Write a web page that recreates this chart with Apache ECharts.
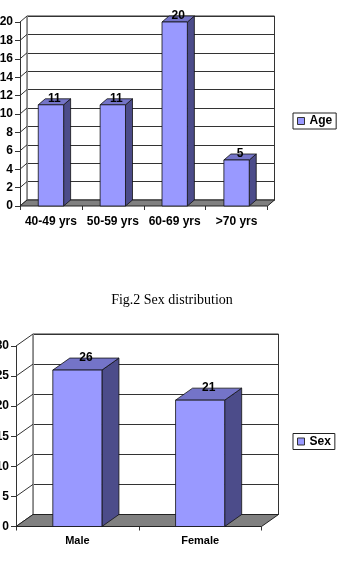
<!DOCTYPE html>
<html>
<head>
<meta charset="utf-8">
<script src="https://cdn.jsdelivr.net/npm/echarts@6/dist/echarts.min.js"></script>
<style>
  html, body { margin: 0; padding: 0; background: #fff; }
  #main { width: 344px; height: 563px; }
</style>
</head>
<body>
<div id="main"></div>
<script>
// chart data
var ageCategories = ['40-49 yrs', '50-59 yrs', '60-69 yrs', '>70 yrs']
var ageValues = [11, 11, 20, 5]
var ageTicks = [0, 2, 4, 6, 8, 10, 12, 14, 16, 18, 20]

var sexCategories = ['Male', 'Female']
var sexValues = [26, 21]
var sexTicks = [0, 5, 10, 15, 20, 25, 30]

var FONT = '"Liberation Sans", Arial, sans-serif'
var FRONT = '#9999FF'
var TOP = '#7474C8'
var SIDE = '#4C4C8A'

// layout of the two panels (front plane + depth offset)
var panels = [
  { name: 'Age', cats: ageCategories, vals: ageValues, ticks: ageTicks,
    rect: { left: 20, top: 22, width: 247.5, height: 184 },
    dx: 7, dy: 6, barRatio: 0.41, xFont: 12, xMargin: 10, legendTop: 113 },
  { name: 'Sex', cats: sexCategories, vals: sexValues, ticks: sexTicks,
    rect: { left: 16, top: 346, width: 245.5, height: 180.5 },
    dx: 17, dy: 12, barRatio: 0.40, xFont: 11, xMargin: 9, legendTop: 433.5 }
]

var grids = [], xAxes = [], yAxes = [], series = [], legends = []

panels.forEach(function (p, k) {
  var front = k * 2
  var back = k * 2 + 1
  var min = p.ticks[0]
  var max = p.ticks[p.ticks.length - 1]
  var step = p.ticks[1] - p.ticks[0]

  grids.push({
    left: p.rect.left, top: p.rect.top, width: p.rect.width, height: p.rect.height,
    outerBoundsMode: 'none', containLabel: false
  })
  grids.push({
    left: p.rect.left + p.dx, top: p.rect.top - p.dy, width: p.rect.width, height: p.rect.height,
    outerBoundsMode: 'none', containLabel: false,
    show: true, borderColor: '#333', borderWidth: 1, backgroundColor: 'rgba(0,0,0,0)'
  })

  xAxes.push({
    type: 'category', gridIndex: front, data: p.cats,
    axisLine: { show: false },
    axisTick: { show: true, length: 4, lineStyle: { color: '#333' } },
    axisLabel: { interval: 0, margin: p.xMargin, color: '#000', fontWeight: 'bold',
      fontSize: p.xFont, fontFamily: FONT },
    splitLine: { show: false }
  })
  xAxes.push({ type: 'category', gridIndex: back, data: p.cats, show: false })

  yAxes.push({
    type: 'value', gridIndex: front, min: min, max: max, interval: step,
    axisLine: { show: true, lineStyle: { color: '#333' } },
    axisTick: { show: true, length: 5, lineStyle: { color: '#333' } },
    axisLabel: { margin: 7, color: '#000', fontWeight: 'bold', fontSize: 12, fontFamily: FONT },
    splitLine: { show: false }
  })
  yAxes.push({
    type: 'value', gridIndex: back, min: min, max: max, interval: step,
    axisLine: { show: true, lineStyle: { color: '#888' } },
    axisTick: { show: false },
    axisLabel: { show: false },
    splitLine: { show: true, lineStyle: { color: '#333', width: 1 } }
  })

  // left wall gridlines (diagonals from front axis to back wall)
  series.push({
    type: 'custom', xAxisIndex: front, yAxisIndex: front, silent: true, z: 1,
    data: p.ticks.map(function (t) { return [0, t] }),
    renderItem: function (params, api) {
      var cs = params.coordSys
      var y = api.coord([0, api.value(1)])[1]
      return {
        type: 'line',
        shape: { x1: cs.x, y1: y, x2: cs.x + p.dx, y2: y - p.dy },
        style: { stroke: '#333', lineWidth: 1 }
      }
    }
  })

  // floor
  series.push({
    type: 'custom', xAxisIndex: front, yAxisIndex: front, silent: true, z: 2,
    data: [[0, min]],
    renderItem: function (params, api) {
      var cs = params.coordSys
      var y0 = api.coord([0, api.value(1)])[1]
      var xl = cs.x, xr = cs.x + cs.width
      return {
        type: 'polygon',
        shape: { points: [[xl, y0], [xr, y0], [xr + p.dx, y0 - p.dy], [xl + p.dx, y0 - p.dy]] },
        style: { fill: '#808080', stroke: '#222', lineWidth: 1 }
      }
    }
  })

  // 3d bars
  series.push({
    name: p.name, type: 'custom', xAxisIndex: front, yAxisIndex: front, z: 3,
    itemStyle: { color: FRONT },
    data: p.vals.map(function (v, i) { return [i, v] }),
    renderItem: function (params, api) {
      var i = api.value(0)
      var v = api.value(1)
      var top = api.coord([i, v])
      var base = api.coord([i, min])
      var w = api.size([1, 0])[0] * p.barRatio
      var xl = top[0] - w / 2, xr = top[0] + w / 2
      var yv = top[1], y0 = base[1]
      var dx = p.dx, dy = p.dy
      var edge = { stroke: '#111', lineWidth: 0.8 }
      return {
        type: 'group',
        children: [
          { type: 'polygon', shape: { points: [[xr, y0], [xr + dx, y0 - dy], [xr + dx, yv - dy], [xr, yv]] },
            style: Object.assign({ fill: SIDE }, edge) },
          { type: 'polygon', shape: { points: [[xl, yv], [xr, yv], [xr + dx, yv - dy], [xl + dx, yv - dy]] },
            style: Object.assign({ fill: TOP }, edge) },
          { type: 'rect', shape: { x: xl, y: yv, width: w, height: y0 - yv },
            style: Object.assign({ fill: FRONT }, edge) },
          { type: 'text', z2: 10,
            style: { text: String(v), x: top[0] + dx / 2, y: yv - dy,
              align: 'center', verticalAlign: 'middle',
              textAlign: 'center', textVerticalAlign: 'middle',
              font: 'bold 12px ' + FONT, fill: '#000' } }
        ]
      }
    }
  })

  legends.push({
    data: [p.name], left: 293, top: p.legendTop, orient: 'vertical',
    padding: [2, 4], borderColor: '#222', borderWidth: 1,
    icon: 'rect', itemWidth: 7, itemHeight: 7,
    itemStyle: { borderColor: '#333', borderWidth: 1 },
    selectedMode: false,
    textStyle: { color: '#000', fontWeight: 'bold', fontSize: 12, fontFamily: FONT }
  })
})

var chart = echarts.init(document.getElementById('main'), null, { renderer: 'canvas' })
chart.setOption({
  animation: false,
  backgroundColor: '#fff',
  title: {
    text: 'Fig.2 Sex distribution', left: 'center', top: 288,
    textStyle: { fontFamily: '"Liberation Serif", "Times New Roman", serif',
      fontSize: 14, fontWeight: 'normal', color: '#000' }
  },
  legend: legends,
  grid: grids,
  xAxis: xAxes,
  yAxis: yAxes,
  series: series
})
</script>
</body>
</html>
